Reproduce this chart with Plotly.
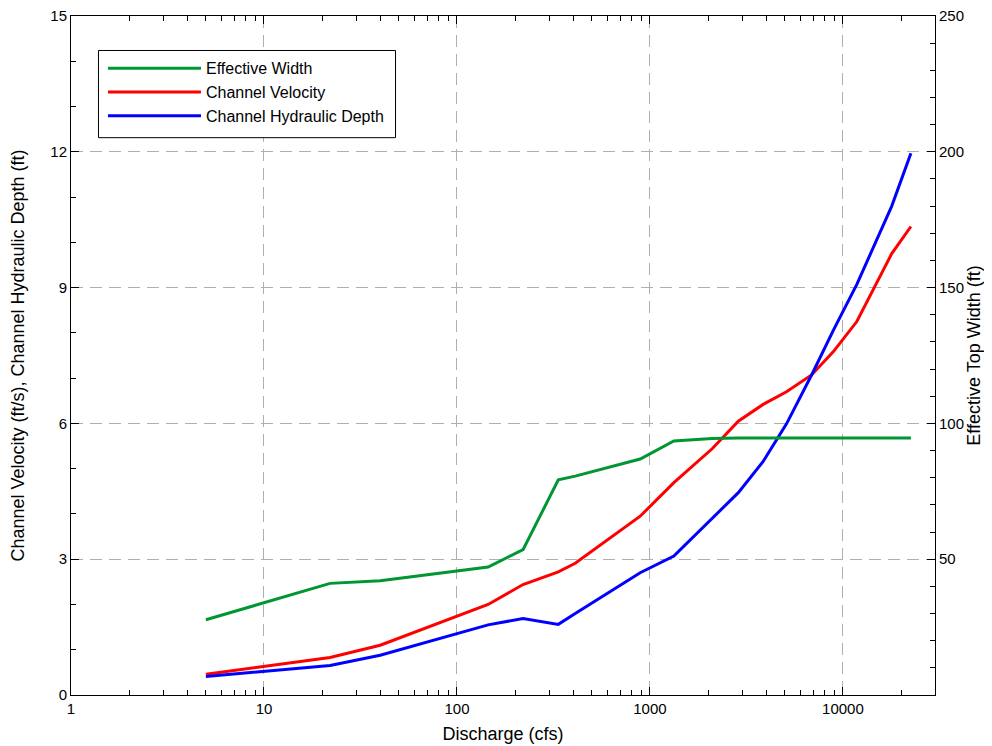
import plotly.graph_objects as go

# discharge profile values (cfs)
discharge = [5, 22, 40, 145, 220, 335, 410, 890, 1330, 2100, 2870, 3860,
             5100, 6880, 8900, 11800, 17900, 22500]

# effective top width (ft) - right axis
eff_width = [27.7, 41.1, 42.1, 47.1, 53.5, 79.2, 80.6, 86.9, 93.5, 94.4, 94.6, 94.6,
             94.6, 94.6, 94.6, 94.6, 94.6, 94.6]

# channel velocity (ft/s)
velocity = [0.46, 0.83, 1.10, 2.00, 2.44, 2.72, 2.91, 3.95, 4.69, 5.44, 6.05, 6.42,
            6.70, 7.07, 7.58, 8.25, 9.75, 10.35]

# channel hydraulic depth (ft)
depth = [0.41, 0.65, 0.88, 1.55, 1.69, 1.56, 1.80, 2.70, 3.07, 3.90, 4.47, 5.16,
         5.99, 7.07, 8.05, 9.07, 10.80, 11.97]

x_ticks = [1, 10, 100, 1000, 10000]
y2_ticks = [50, 100, 150, 200, 250]

font = "Liberation Sans, Arial, sans-serif"
grid = "rgb(175,175,175)"

fig = go.Figure()

fig.add_trace(go.Scatter(x=discharge, y=eff_width, name="Effective Width",
                         mode="lines", line=dict(color="rgb(0,150,50)", width=3),
                         yaxis="y2"))
fig.add_trace(go.Scatter(x=discharge, y=velocity, name="Channel Velocity",
                         mode="lines", line=dict(color="rgb(255,0,0)", width=3)))
fig.add_trace(go.Scatter(x=discharge, y=depth, name="Channel Hydraulic Depth",
                         mode="lines", line=dict(color="rgb(0,0,255)", width=3)))

# legend frame drawn as a shape so the entries get more padding
fig.add_shape(type="rect", xref="paper", yref="paper",
              x0=0.0318, x1=0.3756, y0=0.8208, y1=0.9492,
              line=dict(color="black", width=1), fillcolor="white", layer="above")

# page body has an 8px margin, so the figure is sized to fit the window
fig.update_layout(
    width=984, height=738,
    margin=dict(l=63, r=57, t=8, b=51),
    plot_bgcolor="white", paper_bgcolor="white",
    font=dict(family=font, size=15, color="black"),
    legend=dict(x=0.037, y=0.948, xanchor="left", yanchor="top",
                borderwidth=0, bgcolor="rgba(0,0,0,0)",
                itemwidth=93, font=dict(size=16), tracegroupgap=0,
                traceorder="normal"),
    xaxis=dict(
        type="log", range=[0, 4.477], automargin=False,
        tickvals=x_ticks, ticktext=[str(v) for v in x_ticks],
        ticks="inside", ticklen=8, tickcolor="black",
        showline=True, linecolor="black", linewidth=1, mirror="ticks",
        showgrid=True, gridcolor=grid, griddash="12px,7px", gridwidth=1,
        zeroline=False, ticklabeloverflow="allow",
        minor=dict(ticks="inside", ticklen=5, tickcolor="black",
                   tickvals=[m * 10 ** d for d in range(5) for m in range(2, 10)],
                   showgrid=False),
        title=dict(text="Discharge (cfs)", standoff=11),
    ),
    yaxis=dict(
        range=[0, 15], dtick=3, tick0=0, automargin=False,
        ticks="inside", ticklen=8, tickcolor="black",
        showline=True, linecolor="black", linewidth=1,
        showgrid=True, gridcolor=grid, griddash="12px,7px", gridwidth=1,
        zeroline=False, ticklabeloverflow="allow",
        minor=dict(ticks="inside", ticklen=5, tickcolor="black", dtick=1,
                   showgrid=False),
        title=dict(text="Channel Velocity (ft/s), Channel Hydraulic Depth (ft)",
                   standoff=40),
    ),
    yaxis2=dict(
        range=[0, 250], overlaying="y", side="right", automargin=False,
        tickvals=y2_ticks,
        ticks="inside", ticklen=8, tickcolor="black",
        showline=True, linecolor="black", linewidth=1,
        showgrid=False, zeroline=False, ticklabeloverflow="allow",
        minor=dict(ticks="inside", ticklen=5, tickcolor="black", dtick=10,
                   tick0=0, showgrid=False),
        title=dict(text="Effective Top Width (ft)", standoff=4),
    ),
)

fig.write_html("out.html")
